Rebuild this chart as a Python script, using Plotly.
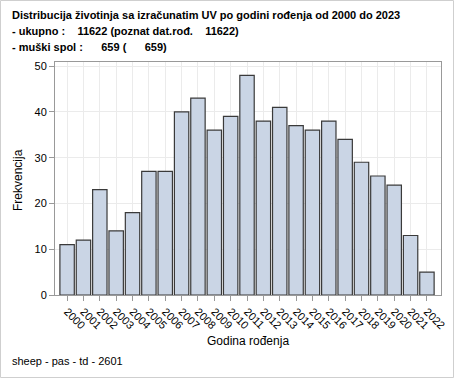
import plotly.graph_objects as go

years = [str(y) for y in range(2000, 2023)]
counts = [11, 12, 23, 14, 18, 27, 27, 40, 43, 36, 39, 48, 38, 41, 37, 36, 38, 34, 29, 26, 24, 13, 5]
title_lines = [
    "Distribucija životinja sa izračunatim UV po godini rođenja od 2000 do 2023",
    "- ukupno :    11622 (poznat dat.rođ.    11622)",
    "- muški spol :      659 (      659)",
]
footer = "sheep - pas - td - 2601"

W, H = 454, 378
L, R, T, B = 55, 441, 62, 295

fig = go.Figure(go.Bar(
    x=list(range(len(years))), y=counts,
    marker=dict(color="#CAD5E5", line=dict(color="#3a3a3a", width=1.2)),
    width=0.88,
))

def px(x):
    return (x - L) / (R - L)

def py(y):
    return (B - y) / (B - T)

ann = []
for i, t in enumerate(title_lines):
    ann.append(dict(text="<b>" + t + "</b>", x=px(10), y=py(15 + 16 * i), xref="paper", yref="paper",
                    xanchor="left", yanchor="middle", showarrow=False,
                    font=dict(family="Liberation Sans, Arial", size=11, color="black")))
ann.append(dict(text=footer, x=px(10), y=py(361), xref="paper", yref="paper",
                xanchor="left", yanchor="middle", showarrow=False,
                font=dict(family="Liberation Sans, Arial", size=11, color="black")))
ann.append(dict(text="Godina rođenja", x=0.5, y=py(341), xref="paper", yref="paper",
                xanchor="center", yanchor="middle", showarrow=False,
                font=dict(family="Liberation Sans, Arial", size=12, color="black")))
ann.append(dict(text="Frekvencija", x=px(18), y=py(180), xref="paper", yref="paper",
                xanchor="center", yanchor="middle", showarrow=False, textangle=-90,
                font=dict(family="Liberation Sans, Arial", size=12, color="black")))

fig.update_layout(
    width=W, height=H,
    margin=dict(l=L, r=W - R, t=T, b=H - B),
    paper_bgcolor="white", plot_bgcolor="white",
    showlegend=False,
    font=dict(family="Liberation Sans, Arial", size=11, color="black"),
    annotations=ann,
    shapes=[dict(type="rect", xref="paper", yref="paper",
                 x0=px(0.5), x1=px(W - 0.5), y0=py(H - 0.5), y1=py(0.5),
                 line=dict(color="#cfcfcf", width=1), layer="below")],
    xaxis=dict(
        range=[-0.74, 22.86], automargin=False,
        tickmode="array", tickvals=list(range(len(years))), ticktext=years,
        tickangle=45, ticks="outside", ticklen=5, tickcolor="#999",
        showgrid=True, gridcolor="#ebebeb", gridwidth=1,
        showline=True, linecolor="#999", mirror=True,
        tickfont=dict(size=11),
    ),
    yaxis=dict(
        range=[0, 50.9], automargin=False,
        tickvals=[0, 10, 20, 30, 40, 50],
        ticks="outside", ticklen=5, tickcolor="#999",
        showgrid=True, gridcolor="#ebebeb", gridwidth=1,
        showline=True, linecolor="#999", mirror=True, zeroline=False,
        tickfont=dict(size=11),
    ),
    bargap=0.1,
)

fig.write_html("out.html", config={"displayModeBar": False},
               post_script="document.body.style.margin='0px';")
